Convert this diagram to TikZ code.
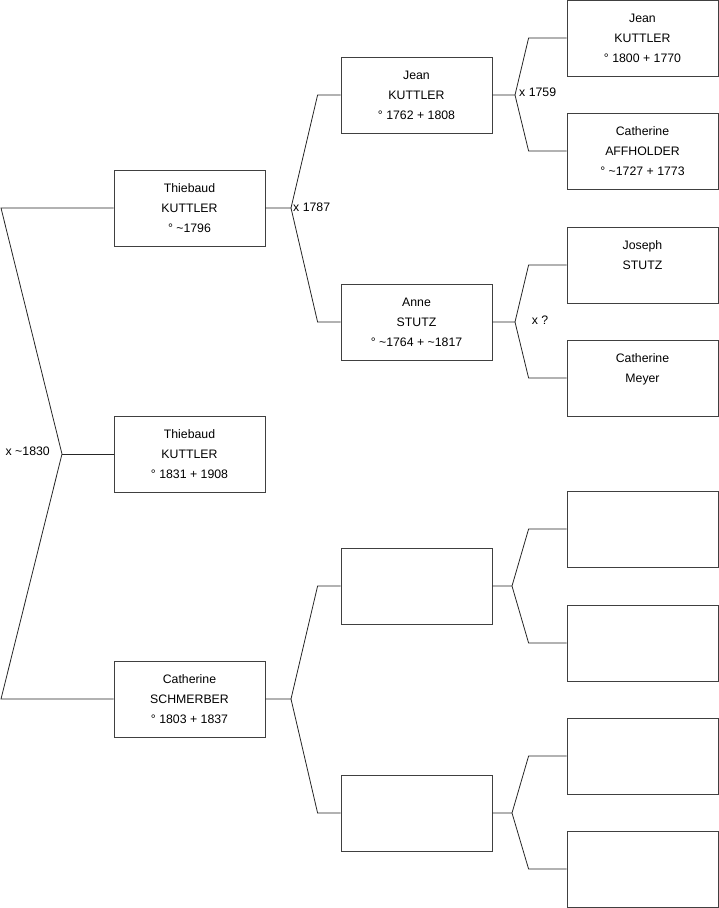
\documentclass[tikz,border=0pt]{standalone}
\usepackage{fontspec}
\setmainfont{Liberation Sans}
\usetikzlibrary{calc}
\begin{document}
\begin{tikzpicture}[x=1pt,y=-1pt,
  person/.style={draw=black!75, line width=0.8pt, minimum width=151pt, minimum height=76pt,
    inner sep=0pt, align=center, font=\fontsize{12.3}{20}\selectfont, fill=white},
  link/.style={draw=black!85, line width=0.8pt},
  mlabel/.style={font=\fontsize{12.3}{14}\selectfont, inner sep=0pt}]
\useasboundingbox (0,0) rectangle (719,908);
% generation 0
\node[person] (g0) at (189.5,454) {Thiebaud\\KUTTLER\\° 1831 + 1908};
% generation 1
\node[person] (p1) at (189.5,208) {Thiebaud\\KUTTLER\\° \textasciitilde 1796};
\node[person] (m1) at (189.5,699) {Catherine\\SCHMERBER\\° 1803 + 1837};
% generation 2
\node[person] (pp) at (416.5,95) {Jean\\KUTTLER\\° 1762 + 1808};
\node[person] (pm) at (416.5,322) {Anne\\STUTZ\\° \textasciitilde 1764 + \textasciitilde 1817};
\node[person] (mp) at (416.5,586) {};
\node[person] (mm) at (416.5,813) {};
% generation 3
\node[person] (ppp) at (642.5,38) {Jean\\KUTTLER\\° 1800 + 1770};
\node[person] (ppm) at (642.5,151) {Catherine\\AFFHOLDER\\° \textasciitilde 1727 + 1773};
\node[person] (pmp) at (642.5,265) {Joseph\\STUTZ\\\mbox{}};
\node[person] (pmm) at (642.5,378) {Catherine\\Meyer\\\mbox{}};
\node[person] (mpp) at (642.5,529) {};
\node[person] (mpm) at (642.5,643) {};
\node[person] (mmp) at (642.5,756) {};
\node[person] (mmm) at (642.5,869) {};
% big fork
\coordinate (v0) at (62,454);
\draw[link] (p1.west) -- (1,208) -- (v0) -- (1,699) -- (m1.west);
\draw[link] (v0) -- (g0.west);
\node[mlabel, anchor=east] (l0) at (50,451) {x \textasciitilde 1830};
% gen1 forks
\coordinate (v1) at (291,208);
\draw[link] (p1.east) -- (v1) -- ($(pp.west)+(-23,0)$) -- (pp.west);
\draw[link] (v1) -- ($(pm.west)+(-23,0)$) -- (pm.west);
\node[mlabel, anchor=west] (l1) at (293,207) {x 1787};
\coordinate (v2) at (291,699);
\draw[link] (m1.east) -- (v2) -- ($(mp.west)+(-23,0)$) -- (mp.west);
\draw[link] (v2) -- ($(mm.west)+(-23,0)$) -- (mm.west);
% gen2 forks
\coordinate (v3) at (515,95);
\draw[link] (pp.east) -- (v3) -- ($(ppp.west)+(-38,0)$) -- (ppp.west);
\draw[link] (v3) -- ($(ppm.west)+(-38,0)$) -- (ppm.west);
\node[mlabel, anchor=west] (l3) at (519,92) {x 1759};
\coordinate (v4) at (515,322);
\draw[link] (pm.east) -- (v4) -- ($(pmp.west)+(-38,0)$) -- (pmp.west);
\draw[link] (v4) -- ($(pmm.west)+(-38,0)$) -- (pmm.west);
\node[mlabel] (l4) at (540,320) {x ?};
\coordinate (v5) at (512,586);
\draw[link] (mp.east) -- (v5) -- ($(mpp.west)+(-38,0)$) -- (mpp.west);
\draw[link] (v5) -- ($(mpm.west)+(-38,0)$) -- (mpm.west);
\coordinate (v6) at (512,813);
\draw[link] (mm.east) -- (v6) -- ($(mmp.west)+(-38,0)$) -- (mmp.west);
\draw[link] (v6) -- ($(mmm.west)+(-38,0)$) -- (mmm.west);
\end{tikzpicture}
\end{document}
